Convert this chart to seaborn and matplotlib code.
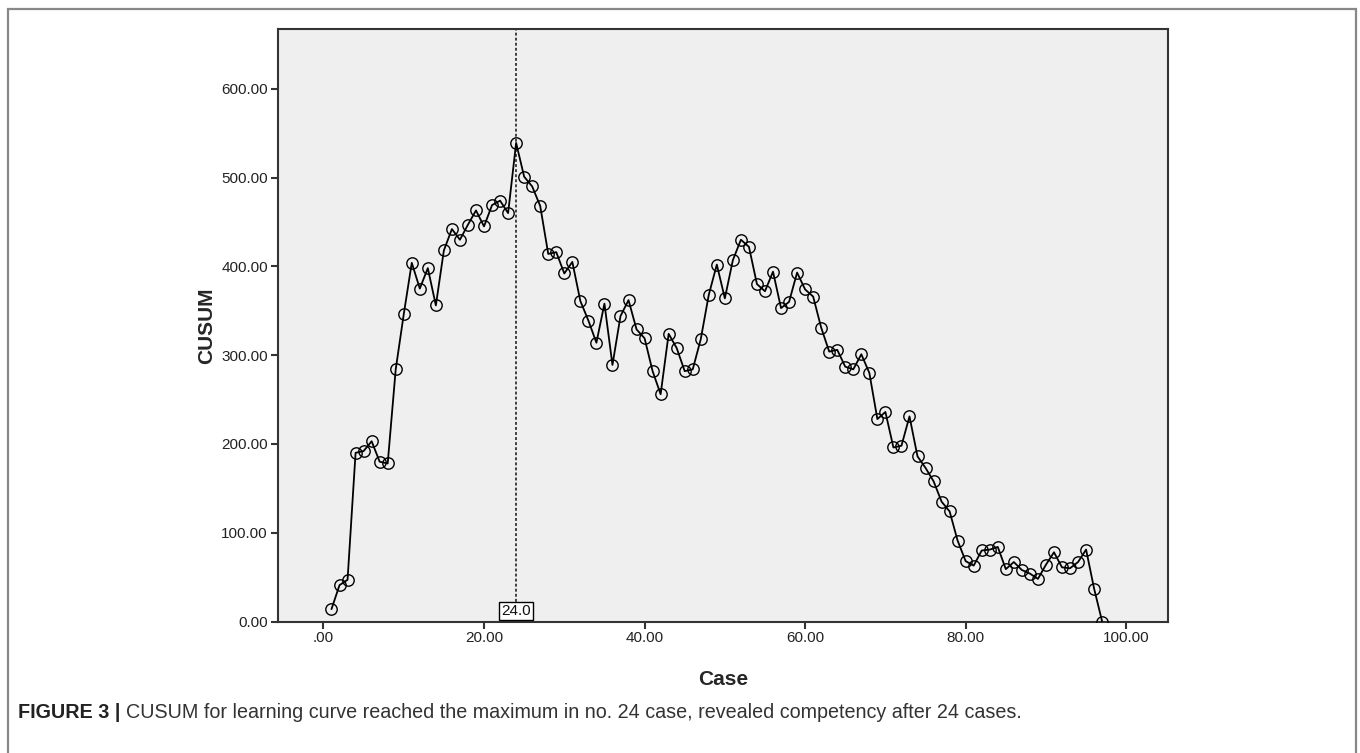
import matplotlib
matplotlib.use("Agg")
import matplotlib.pyplot as plt
from matplotlib.patches import Rectangle
import pandas as pd
import seaborn as sns

# CUSUM values, case 1..97
case = list(range(1, 98))
cusum = [
    14, 41, 47, 190, 192, 203, 180, 178, 284, 346,
    404, 375, 398, 356, 418, 442, 430, 447, 463, 445,
    469, 474, 460, 539, 501, 490, 468, 414, 416, 392,
    405, 361, 339, 314, 358, 289, 344, 362, 329, 319,
    282, 256, 324, 308, 282, 284, 318, 368, 402, 364,
    407, 430, 422, 380, 372, 394, 353, 360, 393, 374,
    366, 331, 304, 306, 287, 284, 301, 280, 228, 236,
    196, 198, 231, 186, 173, 158, 135, 124, 91, 68,
    63, 80, 81, 84, 59, 67, 58, 54, 48, 64,
    78, 61, 60, 67, 81, 37, 0,
]
x_ticks = [0, 20, 40, 60, 80, 100]
x_tick_labels = [".00", "20.00", "40.00", "60.00", "80.00", "100.00"]
y_ticks = [0, 100, 200, 300, 400, 500, 600]
y_tick_labels = ["0.00", "100.00", "200.00", "300.00", "400.00", "500.00", "600.00"]
peak_case = 24
caption_bold = "FIGURE 3 |"
caption_text = "CUSUM for learning curve reached the maximum in no. 24 case, revealed competency after 24 cases."

df = pd.DataFrame({"Case": case, "CUSUM": cusum})

sns.set_style("ticks")
plt.rcParams["font.family"] = ["Liberation Sans", "DejaVu Sans"]

fig = plt.figure(figsize=(13.6, 7.53), dpi=100)
ax = fig.add_axes([0.2042, 0.1746, 0.8588 - 0.2042, 0.9611 - 0.1746])
ax.set_facecolor("#efefef")

ax.axvline(peak_case, color="#333333", lw=1.3, ls=(0, (1.6, 1.2)), zorder=1)

sns.lineplot(
    data=df, x="Case", y="CUSUM", ax=ax, color="black", lw=1.3,
    marker="o", markersize=8.2, markerfacecolor="none",
    markeredgecolor="black", markeredgewidth=1.0, zorder=3,
)

ax.annotate(
    f"{peak_case:.1f}", xy=(peak_case, 0), xytext=(0, 2.5),
    textcoords="offset points", ha="center", va="bottom", fontsize=11,
    color="#111111", zorder=4,
    bbox=dict(boxstyle="square,pad=0.12", fc="white", ec="black", lw=1.0),
)

ax.set_xlim(-5.7, 105.2)
ax.set_ylim(0, 667)
ax.set_xticks(x_ticks)
ax.set_xticklabels(x_tick_labels)
ax.set_yticks(y_ticks)
ax.set_yticklabels(y_tick_labels)
ax.tick_params(axis="both", labelsize=11, length=5, width=1.5, color="#333333",
               labelcolor="#222222", direction="out", pad=2)
for side in ["left", "right", "top", "bottom"]:
    ax.spines[side].set_visible(True)
    ax.spines[side].set_color("#333333")
    ax.spines[side].set_linewidth(1.5)

ax.set_xlabel("Case", fontsize=15, fontweight="bold", labelpad=18)
ax.set_ylabel("CUSUM", fontsize=15, fontweight="bold", labelpad=4)

# outer frame around figure + caption
fig.add_artist(Rectangle((8 / 1360, -0.05), 1348 / 1360, 1.05 - 9 / 753,
                         transform=fig.transFigure, fill=False,
                         ec="#888888", lw=1.6))

t1 = fig.text(18 / 1360, 1 - 713 / 753, caption_bold, fontsize=14.2,
              fontweight="bold", color="#222222", va="center", ha="left")
ax.annotate(caption_text, xy=(1, 0.5), xycoords=t1, xytext=(4, 0),
            textcoords="offset points", fontsize=14.2, color="#333333",
            va="center", ha="left", annotation_clip=False)

fig.savefig("out.png", dpi=100)
